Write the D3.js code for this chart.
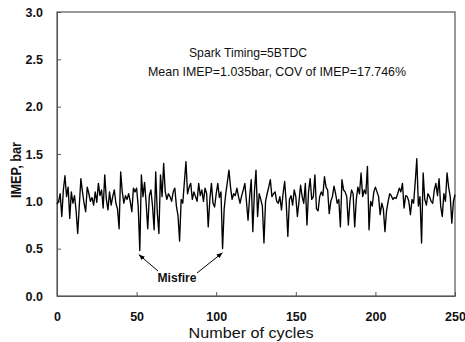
<!DOCTYPE html>
<html>
<head>
<meta charset="utf-8">
<script src="https://cdn.jsdelivr.net/npm/d3@7"></script>
<style>
  body { margin: 0; background: #fff; }
  svg text { font-family: "Liberation Sans", Arial, sans-serif; fill: #111; }
</style>
</head>
<body>
<div id="chart"></div>
<script>
// IMEP per cycle, cycles 0..250
const imep = [
  0.97, 1.00, 1.08, 0.84, 1.12, 1.27, 1.05, 1.15, 0.82, 1.10,
  0.98, 1.06, 0.90, 0.66, 0.95, 1.24, 1.10, 0.98, 0.89, 1.15,
  1.08, 1.00, 1.04, 0.96, 1.10, 0.99, 1.19, 1.06, 1.12, 0.93,
  1.28, 1.02, 0.91, 1.10, 0.96, 1.05, 1.12, 0.98, 0.92, 0.71,
  1.31, 1.10, 0.98, 1.06, 1.02, 1.08, 1.00, 0.89, 1.14, 1.10,
  1.14, 0.95, 0.48, 1.28, 1.05, 1.20, 0.98, 0.71, 1.06, 1.12,
  0.95, 0.70, 1.31, 0.88, 0.66, 1.28, 1.05, 1.40, 1.10, 1.02,
  1.08, 1.05, 1.00, 1.10, 1.14, 0.95, 0.85, 0.58, 1.02, 0.98,
  1.20, 1.42, 1.08, 1.15, 1.19, 1.02, 1.10, 1.05, 1.00, 1.19,
  1.06, 1.12, 1.00, 1.14, 1.08, 0.73, 1.02, 1.19, 0.98, 0.94,
  1.08, 1.19, 1.04, 1.10, 0.50, 0.92, 1.08, 1.20, 1.33, 1.15,
  1.02, 1.08, 1.06, 1.14, 1.05, 0.98, 1.06, 1.12, 1.19, 1.00,
  0.80, 1.05, 1.23, 0.68, 1.10, 1.33, 0.84, 1.08, 1.02, 0.95,
  0.56, 1.00, 1.08, 1.15, 1.23, 1.05, 1.08, 1.10, 1.00, 0.98,
  1.05, 0.91, 1.08, 1.21, 0.98, 0.63, 1.02, 1.06, 0.96, 1.12,
  1.05, 0.84, 1.00, 1.17, 1.05, 0.98, 1.19, 0.75, 1.10, 1.24,
  1.02, 1.05, 1.28, 0.92, 0.90, 1.05, 1.10, 1.06, 1.26, 1.15,
  1.12, 0.87, 1.00, 1.05, 1.16, 1.08, 0.98, 1.02, 0.73, 1.23,
  1.12, 1.10, 1.05, 0.75, 1.00, 1.12, 1.08, 0.73, 1.02, 1.15,
  1.08, 1.30, 1.05, 1.12, 1.08, 1.37, 0.70, 1.00, 0.95, 1.10,
  1.15, 1.10, 1.05, 0.86, 0.98, 0.92, 0.68, 0.90, 1.00, 1.08,
  1.06, 1.02, 1.04, 1.03, 1.08, 1.14, 1.10, 1.19, 0.93, 1.06,
  1.05, 1.00, 0.86, 1.02, 0.98, 1.20, 1.45, 0.95, 1.05, 0.56,
  1.30, 1.02, 0.96, 1.08, 1.05, 1.00, 0.98, 1.12, 1.19, 1.06,
  1.24, 0.95, 0.84, 1.08, 1.00, 1.30, 1.15, 1.05, 0.77, 1.00,
  1.07
];
const xTicks = [0, 50, 100, 150, 200, 250];
const yTicks = [0.0, 0.5, 1.0, 1.5, 2.0, 2.5, 3.0];
const misfireCycles = [52, 104];
const titleLines = ['Spark Timing=5BTDC', 'Mean IMEP=1.035bar, COV of IMEP=17.746%'];

const W = 465, H = 342;
const margin = { left: 57, right: 455, top: 12, bottom: 296 };

const svg = d3.select('#chart')
  .append('svg')
  .attr('width', W)
  .attr('height', H);

const x = d3.scaleLinear().domain([0, 250]).range([margin.left, margin.right]);
const y = d3.scaleLinear().domain([0, 3]).range([margin.bottom, margin.top]);

// frame
svg.append('rect')
  .attr('x', margin.left)
  .attr('y', margin.top)
  .attr('width', margin.right - margin.left)
  .attr('height', margin.bottom - margin.top)
  .attr('fill', 'none')
  .attr('stroke', '#555')
  .attr('stroke-width', 1.2);

const yAxis = svg.append('g')
  .attr('transform', `translate(${margin.left},0)`)
  .call(d3.axisLeft(y).tickValues(yTicks).tickFormat(d3.format('.1f')).tickSizeInner(-4).tickSizeOuter(0).tickPadding(14));
yAxis.select('.domain').attr('stroke', '#555');
yAxis.selectAll('line').attr('stroke', '#555');
yAxis.selectAll('text')
  .style('font-size', '12.5px')
  .style('font-weight', 'bold')
  .attr('fill', '#111');

const xAxis = svg.append('g')
  .attr('transform', `translate(0,${margin.bottom})`)
  .call(d3.axisBottom(x).tickValues(xTicks).tickSizeInner(-4).tickSizeOuter(0).tickPadding(16));
xAxis.select('.domain').attr('stroke', '#555');
xAxis.selectAll('line').attr('stroke', '#555');
xAxis.selectAll('text')
  .style('font-size', '12.5px')
  .style('font-weight', 'bold')
  .attr('fill', '#111');

// data line
const line = d3.line()
  .x((d, i) => x(i))
  .y(d => y(d));

svg.append('path')
  .datum(imep)
  .attr('d', line)
  .attr('fill', 'none')
  .attr('stroke', '#000')
  .attr('stroke-width', 1.35)
  .attr('stroke-linejoin', 'round');

// titles
svg.append('text')
  .attr('x', 248)
  .attr('y', 57)
  .attr('text-anchor', 'middle')
  .attr('textLength', 118)
  .attr('lengthAdjust', 'spacingAndGlyphs')
  .style('font-size', '13px')
  .text(titleLines[0]);

svg.append('text')
  .attr('x', 277)
  .attr('y', 76)
  .attr('text-anchor', 'middle')
  .attr('textLength', 258)
  .attr('lengthAdjust', 'spacingAndGlyphs')
  .style('font-size', '13px')
  .text(titleLines[1]);

// axis titles
svg.append('text')
  .attr('x', 251)
  .attr('y', 338)
  .attr('text-anchor', 'middle')
  .attr('textLength', 125)
  .attr('lengthAdjust', 'spacingAndGlyphs')
  .style('font-size', '14px')
  .text('Number of cycles');

svg.append('text')
  .attr('transform', 'translate(21,170) rotate(-90)')
  .attr('text-anchor', 'middle')
  .attr('textLength', 56)
  .attr('lengthAdjust', 'spacingAndGlyphs')
  .style('font-size', '15px')
  .style('font-weight', 'bold')
  .text('IMEP, bar');

// misfire annotation
svg.append('defs').append('marker')
  .attr('id', 'arrow')
  .attr('viewBox', '0 0 10 10')
  .attr('refX', 10)
  .attr('refY', 5)
  .attr('markerWidth', 6)
  .attr('markerHeight', 6)
  .attr('orient', 'auto')
  .append('path')
  .attr('d', 'M0,1 L10,5 L0,9 Z')
  .attr('fill', '#000');

const labelX = 177, labelY = 282;
svg.append('text')
  .attr('x', labelX)
  .attr('y', labelY)
  .attr('text-anchor', 'middle')
  .attr('textLength', 39)
  .attr('lengthAdjust', 'spacingAndGlyphs')
  .style('font-size', '12.5px')
  .style('font-weight', 'bold')
  .text('Misfire');

const starts = [[158, 271], [197, 273]];
misfireCycles.forEach((c, i) => {
  svg.append('line')
    .attr('x1', starts[i][0])
    .attr('y1', starts[i][1])
    .attr('x2', x(c) + (i === 0 ? -1 : 0))
    .attr('y2', y(imep[c]) + 4)
    .attr('stroke', '#000')
    .attr('stroke-width', 1)
    .attr('marker-end', 'url(#arrow)');
});
</script>
</body>
</html>
